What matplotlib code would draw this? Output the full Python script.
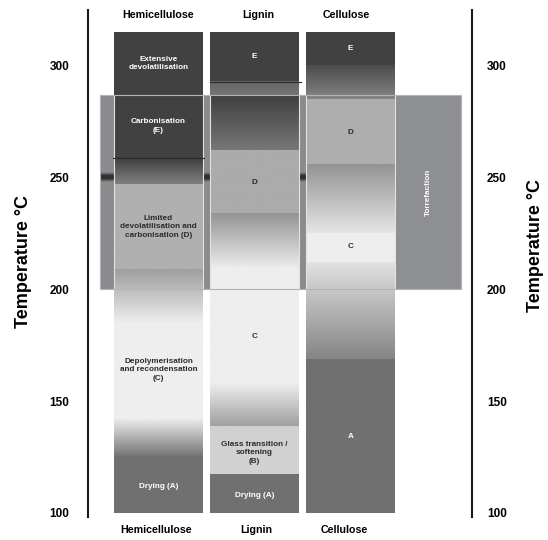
import numpy as np
import matplotlib
matplotlib.use('Agg')
import matplotlib.pyplot as plt
import matplotlib.patches as patches

plt.rcParams['font.family'] = ['Liberation Sans', 'DejaVu Sans']
plt.rcParams['font.weight'] = 'bold'

columns = ['Hemicellulose', 'Lignin', 'Cellulose']
yticks = [100, 150, 200, 250, 300]
torrefaction_range = (200, 287)

# temperature boundaries of each band (top -> bottom) and grey shade at top/bottom of band
hemi_bounds = [315, 287, 259, 247, 209, 185, 142, 125, 100]
hemi_shades = [(0.26, 0.26), (0.26, 0.26), (0.24, 0.50), (0.69, 0.69),
               (0.62, 0.93), (0.93, 0.93), (0.93, 0.45), (0.44, 0.44)]
hemi_labels = ['Extensive\ndevolatilisation', 'Carbonisation\n(E)',
               'Limited\ndevolatilisation and\ncarbonisation (D)',
               'Depolymerisation\nand recondensation\n(C)', 'Drying (A)']
hemi_label_temps = [301, 273, 228, 164, 112]

lignin_bounds = [315, 293, 287, 262, 234, 209, 158, 138.5, 117.4, 100]
lignin_shades = [(0.26, 0.26), (0.40, 0.46), (0.25, 0.47), (0.67, 0.67),
                 (0.58, 0.93), (0.93, 0.93), (0.93, 0.62), (0.82, 0.82), (0.44, 0.44)]
lignin_labels = ['E', 'D', 'C', 'Glass transition /\nsoftening\n(B)', 'Drying (A)']
lignin_label_temps = [304, 248, 179, 127, 108]

cell_bounds = [315, 300, 285, 256, 225, 212, 168.5, 100]
cell_shades = [(0.26, 0.26), (0.30, 0.52), (0.68, 0.68), (0.58, 0.90),
               (0.93, 0.93), (0.88, 0.52), (0.44, 0.44)]
cell_labels = ['E', 'D', 'C', 'A']
cell_label_temps = [308, 270, 219, 134]

col_x = [0, 1, 2]
col_w = 0.92


def shade_at(bounds, shades, t):
    for i in range(len(shades)):
        if bounds[i + 1] <= t <= bounds[i]:
            return sum(shades[i]) / 2
    return 1.0


def draw_column(ax, xc, bounds, shades, labels, label_temps):
    x0, x1 = xc - col_w / 2, xc + col_w / 2
    for i, (s_top, s_bot) in enumerate(shades):
        vals = np.linspace(s_top, s_bot, 60).reshape(-1, 1)
        ax.imshow(vals, cmap='gray', vmin=0, vmax=1, aspect='auto',
                  extent=(x0, x1, bounds[i + 1], bounds[i]),
                  interpolation='bilinear', zorder=2)
    # light edges where column sits on the torrefaction box
    for xe in (x0, x1):
        ax.plot([xe, xe], torrefaction_range, color='#e2e2e2', lw=0.8, zorder=3)
    for lab, t in zip(labels, label_temps):
        c = 'white' if shade_at(bounds, shades, t) < 0.55 else '#2b2b2b'
        ax.text(xc, t, lab, ha='center', va='center', fontsize=5.9,
                color=c, linespacing=1.3, zorder=4)


fig = plt.figure(figsize=(5.48, 5.40), dpi=100)
ax = fig.add_axes([88 / 548, 1 - 517 / 540, 384 / 548, 507 / 540])

# torrefaction box behind the columns
t0, t1 = torrefaction_range
ax.add_patch(patches.Rectangle((-0.609, t0), 3.76, t1 - t0, facecolor='#8a8b8e',
                               edgecolor='none', zorder=1))
for xa, xb in [(-0.609, -0.46), (0.46, 0.54), (1.46, 1.54)]:
    band = np.array([0.55, 0.4, 0.2, 0.18, 0.2, 0.4, 0.55]).reshape(-1, 1)
    ax.imshow(band, cmap='gray', vmin=0, vmax=1, aspect='auto',
              extent=(xa, xb, 247.5, 252.8), interpolation='bilinear', zorder=1.5)

draw_column(ax, col_x[0], hemi_bounds, hemi_shades, hemi_labels, hemi_label_temps)
draw_column(ax, col_x[1], lignin_bounds, lignin_shades, lignin_labels, lignin_label_temps)
draw_column(ax, col_x[2], cell_bounds, cell_shades, cell_labels, cell_label_temps)

ax.plot([-0.47, 0.47], [hemi_bounds[2]] * 2, color='#2a2a2a', lw=0.8, zorder=3)
ax.plot([0.54, 1.48], [lignin_bounds[1]] * 2, color='#2a2a2a', lw=0.8, zorder=3)

# torrefaction panel
ax.add_patch(patches.Rectangle((2.474, t0), 0.677, t1 - t0, facecolor='#8e8f92',
                               edgecolor='none', zorder=2))
ax.text(2.8125, 243.6, 'Torrefaction', rotation=90, ha='center', va='center',
        fontsize=5.9, color='white', zorder=4)
ax.add_patch(patches.Rectangle((-0.609, t0), 3.76, t1 - t0, facecolor='none',
                               edgecolor='#b4b4b4', lw=0.8, zorder=3))

for name, xt, xb in zip(columns, [0, 1.04, 1.96], [-0.02, 1.02, 1.94]):
    ax.text(xt, 322.8, name, ha='center', va='center', fontsize=7.7, clip_on=False)
    ax.text(xb, 92.4, name, ha='center', va='center', fontsize=7.7, clip_on=False)

ax.set_xlim(-0.734, 3.266)
ax.set_ylim(98.2, 325)
ax.set_xticks([])
ax.set_yticks(yticks)
ax.tick_params(axis='y', length=0, pad=13.5, labelsize=8.5)
for s in ['top', 'bottom']:
    ax.spines[s].set_visible(False)
for s in ['left', 'right']:
    ax.spines[s].set_linewidth(1.5)
    ax.spines[s].set_color('#1a1a1a')

ax2 = ax.twinx()
ax2.set_ylim(ax.get_ylim())
ax2.set_yticks(yticks)
ax2.tick_params(axis='y', length=0, pad=10.8, labelsize=8.5)
for s in ax2.spines.values():
    s.set_visible(False)

fig.text(24 / 548, 1 - 261 / 540, 'Temperature °C', rotation=90, ha='center',
         va='center', fontsize=13)
fig.text(535 / 548, 1 - 245 / 540, 'Temperature °C', rotation=90, ha='center',
         va='center', fontsize=13)

fig.savefig('out.png', dpi=100)
